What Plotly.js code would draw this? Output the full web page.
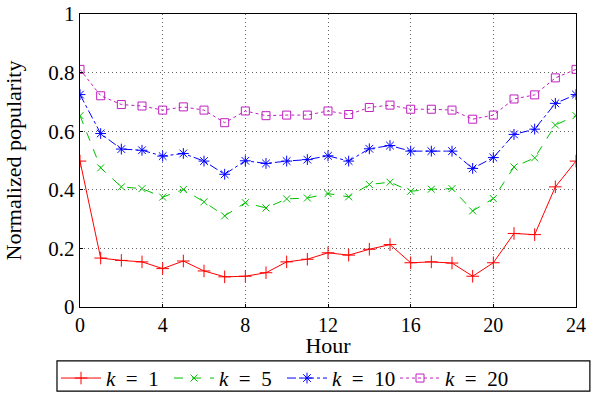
<!DOCTYPE html>
<html><head><meta charset="utf-8">
<script src="https://cdn.plot.ly/plotly-3.0.1.min.js"></script>
<style>html,body{margin:0;padding:0;background:#fff}</style>
</head><body><div id="chart" style="width:592px;height:397px"></div>
<script>
const hours = [0,1,2,3,4,5,6,7,8,9,10,11,12,13,14,15,16,17,18,19,20,21,22,23,24];
const k1  = [0.498,0.167,0.159,0.154,0.131,0.157,0.123,0.103,0.105,0.117,0.154,0.163,0.185,0.177,0.197,0.213,0.151,0.154,0.150,0.105,0.151,0.251,0.247,0.410,0.498];
const k5  = [0.653,0.475,0.410,0.404,0.375,0.401,0.359,0.311,0.356,0.338,0.369,0.372,0.387,0.376,0.418,0.426,0.395,0.402,0.404,0.328,0.370,0.478,0.509,0.621,0.653];
const k10 = [0.725,0.592,0.539,0.535,0.515,0.524,0.498,0.453,0.499,0.490,0.498,0.503,0.516,0.498,0.540,0.551,0.532,0.532,0.532,0.473,0.510,0.589,0.607,0.695,0.725];
const k20 = [0.811,0.721,0.691,0.686,0.672,0.683,0.672,0.629,0.669,0.653,0.655,0.655,0.669,0.657,0.681,0.689,0.675,0.675,0.672,0.641,0.655,0.710,0.724,0.782,0.811];
const names = ['<i>k</i>\u2002=\u20021','<i>k</i>\u2002=\u20025','<i>k</i>\u2002=\u200210','<i>k</i>\u2002=\u200220'];
const xTicks = [0,4,8,12,16,20,24];
const yTicks = [0,0.2,0.4,0.6,0.8,1];
const yTickText = ['0','0.2','0.4','0.6','0.8','1'];

const font = '"Liberation Serif", serif';
function tr(y, name, color, dash, sym, msize){
  return {x: hours, y: y, name: name, type:'scatter', mode:'lines+markers',
    line:{color:color, width:1, dash:dash},
    marker:{symbol:sym, size:msize, color:color, line:{color:color, width:1}}};
}
const data = [
  tr(k1, names[0], '#ff0000', 'solid', 'cross-thin', 9),
  tr(k5, names[1], '#00c000', 'dash', 'x-thin', 7),
  tr(k10, names[2], '#0000ff', 'dashdot', 'asterisk', 9),
  tr(k20, names[3], '#c020c0', 'dot', 'square-open', 8)
];
const layout = {
  width:592, height:397,
  margin:{l:80, r:16, t:14, b:90},
  paper_bgcolor:'#fff', plot_bgcolor:'#fff',
  font:{family:font, size:21, color:'#000'},
  showlegend:true,
  xaxis:{range:[0,24], tickvals:xTicks, ticktext:xTicks.map(String), showgrid:true, automargin:false,
    gridcolor:'#666', griddash:'1px,3px', gridwidth:1, zeroline:false,
    showline:true, linecolor:'#000', linewidth:1.2, mirror:true, ticks:'inside', ticklen:3, tickcolor:'#000',
    title:{text:'Hour', standoff:5, font:{family:font, size:22}}, tickfont:{family:font, size:20}},
  yaxis:{range:[0,1], tickvals:yTicks, ticktext:yTickText, showgrid:true, automargin:false,
    gridcolor:'#666', griddash:'1px,3px', gridwidth:1, zeroline:false,
    showline:true, linecolor:'#000', linewidth:1.2, mirror:true, ticks:'inside', ticklen:3, tickcolor:'#000',
    title:{text:'Normalized popularity', standoff:20, font:{family:font, size:22}}, tickfont:{family:font, size:21}},
  legend:{orientation:'h', x:56/592, xanchor:'left', xref:'container', y:0.0985, yanchor:'top', yref:'container',
    borderwidth:0, bgcolor:'rgba(0,0,0,0)', entrywidth:58, entrywidthmode:'pixels', itemwidth:40,
    font:{family:font, size:21}, tracegroupgap:0},
  shapes:[{type:'rect', xref:'paper', yref:'paper', x0:-0.0464, x1:1.028, y0:-0.287, y1:-0.184,
    line:{color:'#000', width:1.2}, fillcolor:'rgba(0,0,0,0)', layer:'below'}]
};
Plotly.newPlot('chart', data, layout, {displayModeBar:false, staticPlot:true});
</script></body></html>
